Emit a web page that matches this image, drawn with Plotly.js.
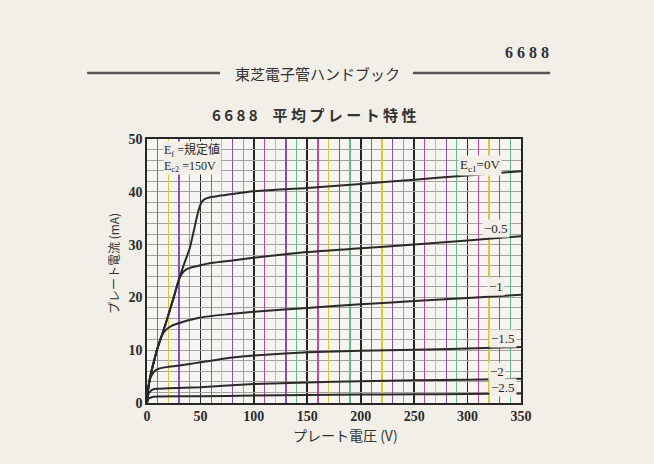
<!DOCTYPE html>
<html>
<head>
<meta charset="utf-8">
<script src="https://cdn.plot.ly/plotly-3.0.1.min.js"></script>
<style>
html,body{margin:0;padding:0;background:#f1efe8;}
#chart{width:654px;height:464px;}
</style>
</head>
<body>
<div id="chart"></div>
<script>
// ---- data (plate voltage V, plate current mA) ----
const seriesNames = ["Ec1=0V", "-0.5", "-1", "-1.5", "-2", "-2.5"];

const x_0V   = [0, 1, 3, 6, 10, 15, 19, 25, 30, 35, 40, 44, 48, 51, 54, 60, 80, 100, 150, 200, 250, 300, 350];
const y_0V   = [0, 2.5, 5, 7.5, 10.5, 13.5, 16, 20, 23.5, 26.5, 29.3, 32.8, 36.3, 38, 38.6, 39, 39.6, 40.1, 40.7, 41.5, 42.3, 43.1, 43.9];

const x_m05  = [0, 1, 3, 6, 10, 15, 19, 25, 30, 33, 37, 42, 50, 60, 80, 100, 150, 200, 250, 300, 350];
const y_m05  = [0, 2.5, 5, 7.5, 10.5, 13.5, 16, 20, 23.4, 24.6, 25.3, 25.7, 26.1, 26.5, 27, 27.5, 28.6, 29.3, 30, 30.8, 31.6];

const x_m1   = [0, 1, 3, 6, 10, 14, 18, 23, 28, 34, 50, 75, 100, 150, 200, 250, 300, 350];
const y_m1   = [0, 2.5, 5, 7.5, 10.5, 12.8, 13.9, 14.6, 15, 15.4, 16.2, 16.8, 17.3, 18, 18.7, 19.3, 19.9, 20.5];

const x_m15  = [0, 1, 3, 6, 10, 15, 20, 30, 40, 50, 60, 80, 100, 150, 200, 250, 300, 350];
const y_m15  = [0, 2.5, 4.6, 5.8, 6.4, 6.7, 6.85, 7.1, 7.4, 7.7, 8, 8.6, 9.0, 9.6, 9.9, 10.1, 10.3, 10.6];

const x_m2   = [0, 1, 3, 6, 10, 20, 50, 100, 150, 200, 250, 300, 350];
const y_m2   = [0, 1.5, 2.2, 2.6, 2.7, 2.8, 3, 3.6, 3.9, 4.1, 4.3, 4.4, 4.6];

const x_m25  = [0, 1, 3, 6, 10, 50, 100, 150, 200, 250, 300, 350];
const y_m25  = [0, 0.8, 1.0, 1.2, 1.25, 1.3, 1.4, 1.5, 1.6, 1.65, 1.7, 1.8];

const xTickVals = [0, 50, 100, 150, 200, 250, 300, 350];
const yTickVals = [0, 10, 20, 30, 40, 50];

// curve label text and anchor points (in data units)
const labelTexts = ["E<sub>c1</sub>=0V", "−0.5", "−1", "−1.5", "−2", "−2.5"];
const labelX = [312, 327, 327, 333, 328, 333];
const labelY = [44.9, 33.1, 22.0, 12.2, 5.9, 2.85];

// ---- styling ----
const PAGE = '#f1efe8';
const PLOT = '#f7f5f1';
const INK = '#2a2a2a';
const SERIF = '"Liberation Serif", "DejaVu Serif", "Noto Sans CJK JP", serif';
const JP = '"Noto Sans CJK JP", "Liberation Serif", sans-serif';

const xs = [x_0V, x_m05, x_m1, x_m15, x_m2, x_m25];
const ys = [y_0V, y_m05, y_m1, y_m15, y_m2, y_m25];

// overlay axes just for coloured vertical grid lines (every 10 V)
const gridColours = ['#c2469a', '#dcc63c', '#8b4fb4', '#62bd8c'];
const overlayX = {};
const gridHolders = [];
gridColours.forEach((c, i) => {
  const id = i + 2;
  overlayX['xaxis' + id] = {
    overlaying: 'x', anchor: 'y', range: [0, 350], tick0: 10 * (i + 1), dtick: 50,
    tickmode: 'linear',
    showticklabels: false, ticks: '', showline: false, zeroline: false,
    showgrid: true, gridcolor: c, gridwidth: 1.2, fixedrange: true
  };
  gridHolders.push({type: 'scatter', mode: 'lines', x: [], y: [], xaxis: 'x' + id, yaxis: 'y',
    hoverinfo: 'skip', showlegend: false});
});
gridHolders.push({type: 'scatter', mode: 'lines', x: [], y: [], xaxis: 'x', yaxis: 'y2',
  hoverinfo: 'skip', showlegend: false});

const traces = gridHolders.concat(xs.map((xv, i) => ({
  type: 'scatter', mode: 'lines', name: seriesNames[i],
  x: xv, y: ys[i], xaxis: 'x', yaxis: 'y',
  line: {color: INK, width: 2, shape: 'spline', smoothing: 0.5},
  hoverinfo: 'skip', showlegend: false
})));

const annotations = labelTexts.map((t, i) => ({
  x: labelX[i], y: labelY[i], xref: 'x', yref: 'y', text: t, showarrow: false,
  font: {family: SERIF, size: 13, color: INK}, bgcolor: PAGE, borderpad: 1,
  xanchor: 'center', yanchor: 'middle'
}));

annotations.push(
  {x: 15, y: 49.6, xref: 'x', yref: 'y', xanchor: 'left', yanchor: 'top', align: 'left',
   text: 'E<sub>f</sub> =規定値<br>E<sub>c2</sub> =150V', showarrow: false,
   font: {family: SERIF, size: 12, color: INK}, bgcolor: PAGE, borderpad: 0},
  {x: 0.457, y: 1.25, xref: 'paper', yref: 'paper', text: '東芝電子管ハンドブック', showarrow: false,
   font: {family: JP, size: 15, color: '#333'}, bgcolor: PAGE, xanchor: 'center', yanchor: 'middle'},
  {x: 1.016, y: 1.326, xref: 'paper', yref: 'paper', text: '<b>6 6 8 8</b>', showarrow: false,
   font: {family: SERIF, size: 16, color: '#333'}, xanchor: 'center', yanchor: 'middle'},
  {x: 0.447, y: 1.091, xref: 'paper', yref: 'paper', text: '<b>6 6 8 8　平 均 プ レ ー ト 特 性</b>', showarrow: false,
   font: {family: JP, size: 15, color: '#333'}, xanchor: 'center', yanchor: 'middle'},
  {x: -0.091, y: 0.53, xref: 'paper', yref: 'paper', text: 'プレート電流 (mA)', showarrow: false, textangle: -90,
   font: {family: JP, size: 12, color: '#333'}, xanchor: 'center', yanchor: 'middle'},
  {x: 0.532, y: -0.121, xref: 'paper', yref: 'paper', text: 'プレート電圧 (V)', showarrow: false,
   font: {family: JP, size: 14, color: '#333'}, xanchor: 'center', yanchor: 'middle'}
);

const layout = Object.assign({
  width: 654, height: 464,
  paper_bgcolor: PAGE, plot_bgcolor: PLOT,
  margin: {l: 147, r: 133, t: 139, b: 61},
  showlegend: false,
  xaxis: {
    range: [0, 350], tickvals: xTickVals, ticktext: xTickVals.map(String),
    showgrid: true, gridcolor: '#262626', gridwidth: 1.6,
    showline: true, mirror: true, linecolor: '#262626', linewidth: 1.6,
    zeroline: false, ticks: '', tickfont: {family: SERIF, size: 14, color: INK, weight: 'bold'},
    fixedrange: true
  },
  yaxis: {
    range: [0, 50], tickvals: yTickVals, ticktext: yTickVals.map(String),
    showgrid: true, gridcolor: '#6a6a6a', gridwidth: 1.2,
    showline: true, mirror: true, linecolor: '#262626', linewidth: 1.6,
    zeroline: false, ticks: '', tickfont: {family: SERIF, size: 14, color: INK, weight: 'bold'},
    fixedrange: true
  },
  yaxis2: {
    overlaying: 'y', anchor: 'x', range: [0, 50], tick0: 0, dtick: 2, tickmode: 'linear',
    showticklabels: false, ticks: '', showline: false, zeroline: false,
    showgrid: true, gridcolor: '#a4a29e', gridwidth: 1, fixedrange: true
  },
  shapes: [
    {type: 'line', xref: 'paper', yref: 'paper', x0: -0.160, x1: 0.195, y0: 1.25, y1: 1.25,
     line: {color: '#555', width: 2.5}},
    {type: 'line', xref: 'paper', yref: 'paper', x0: 0.711, x1: 1.078, y0: 1.25, y1: 1.25,
     line: {color: '#555', width: 2.5}}
  ],
  annotations: annotations
}, overlayX);

Plotly.newPlot('chart', traces, layout, {displayModeBar: false, staticPlot: true});
</script>
</body>
</html>
